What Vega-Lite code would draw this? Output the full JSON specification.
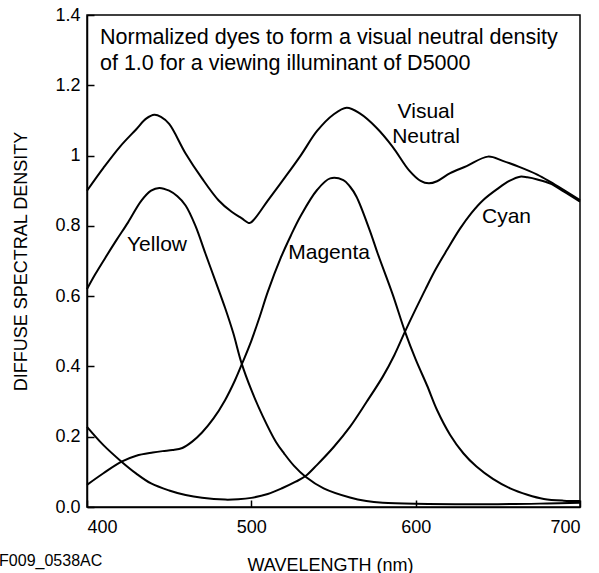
{
  "$schema": "https://vega.github.io/schema/vega-lite/v6.json",
  "width": 493,
  "height": 492,
  "autosize": {"type": "none"},
  "padding": {"left": 87, "top": 15, "right": 19, "bottom": 66},
  "background": "white",
  "config": {
    "view": {"stroke": "black", "strokeWidth": 1.5},
    "font": "Liberation Sans"
  },
  "datasets": {
    "curves": [
      {"dye": "Visual Neutral", "wavelength": 400, "density": 0.9},
      {"dye": "Visual Neutral", "wavelength": 410, "density": 0.965},
      {"dye": "Visual Neutral", "wavelength": 420, "density": 1.025},
      {"dye": "Visual Neutral", "wavelength": 430, "density": 1.075},
      {"dye": "Visual Neutral", "wavelength": 436, "density": 1.105},
      {"dye": "Visual Neutral", "wavelength": 441, "density": 1.116},
      {"dye": "Visual Neutral", "wavelength": 445, "density": 1.11},
      {"dye": "Visual Neutral", "wavelength": 450, "density": 1.09},
      {"dye": "Visual Neutral", "wavelength": 460, "density": 1.006},
      {"dye": "Visual Neutral", "wavelength": 470, "density": 0.935},
      {"dye": "Visual Neutral", "wavelength": 480, "density": 0.873},
      {"dye": "Visual Neutral", "wavelength": 488, "density": 0.84},
      {"dye": "Visual Neutral", "wavelength": 494, "density": 0.822},
      {"dye": "Visual Neutral", "wavelength": 499, "density": 0.808},
      {"dye": "Visual Neutral", "wavelength": 502, "density": 0.82},
      {"dye": "Visual Neutral", "wavelength": 510, "density": 0.872},
      {"dye": "Visual Neutral", "wavelength": 520, "density": 0.935},
      {"dye": "Visual Neutral", "wavelength": 530, "density": 1.0},
      {"dye": "Visual Neutral", "wavelength": 540, "density": 1.07},
      {"dye": "Visual Neutral", "wavelength": 550, "density": 1.117},
      {"dye": "Visual Neutral", "wavelength": 558, "density": 1.136},
      {"dye": "Visual Neutral", "wavelength": 566, "density": 1.12},
      {"dye": "Visual Neutral", "wavelength": 576, "density": 1.08},
      {"dye": "Visual Neutral", "wavelength": 586, "density": 1.025},
      {"dye": "Visual Neutral", "wavelength": 596, "density": 0.958},
      {"dye": "Visual Neutral", "wavelength": 603, "density": 0.928},
      {"dye": "Visual Neutral", "wavelength": 608, "density": 0.921},
      {"dye": "Visual Neutral", "wavelength": 613, "density": 0.927},
      {"dye": "Visual Neutral", "wavelength": 621, "density": 0.95},
      {"dye": "Visual Neutral", "wavelength": 631, "density": 0.97},
      {"dye": "Visual Neutral", "wavelength": 644, "density": 0.997},
      {"dye": "Visual Neutral", "wavelength": 653, "density": 0.985},
      {"dye": "Visual Neutral", "wavelength": 663, "density": 0.968},
      {"dye": "Visual Neutral", "wavelength": 674, "density": 0.946},
      {"dye": "Visual Neutral", "wavelength": 682, "density": 0.925},
      {"dye": "Visual Neutral", "wavelength": 700, "density": 0.873},

      {"dye": "Yellow", "wavelength": 400, "density": 0.62},
      {"dye": "Yellow", "wavelength": 405, "density": 0.662},
      {"dye": "Yellow", "wavelength": 411, "density": 0.708},
      {"dye": "Yellow", "wavelength": 418, "density": 0.76},
      {"dye": "Yellow", "wavelength": 425, "density": 0.81},
      {"dye": "Yellow", "wavelength": 433, "density": 0.871},
      {"dye": "Yellow", "wavelength": 439, "density": 0.9},
      {"dye": "Yellow", "wavelength": 444, "density": 0.908},
      {"dye": "Yellow", "wavelength": 450, "density": 0.9},
      {"dye": "Yellow", "wavelength": 455, "density": 0.884},
      {"dye": "Yellow", "wavelength": 460, "density": 0.858},
      {"dye": "Yellow", "wavelength": 466, "density": 0.8},
      {"dye": "Yellow", "wavelength": 472, "density": 0.722},
      {"dye": "Yellow", "wavelength": 478, "density": 0.645},
      {"dye": "Yellow", "wavelength": 484, "density": 0.567},
      {"dye": "Yellow", "wavelength": 489, "density": 0.495},
      {"dye": "Yellow", "wavelength": 494, "density": 0.41},
      {"dye": "Yellow", "wavelength": 500, "density": 0.333},
      {"dye": "Yellow", "wavelength": 507, "density": 0.258},
      {"dye": "Yellow", "wavelength": 515, "density": 0.185},
      {"dye": "Yellow", "wavelength": 520, "density": 0.152},
      {"dye": "Yellow", "wavelength": 526, "density": 0.117},
      {"dye": "Yellow", "wavelength": 533, "density": 0.086},
      {"dye": "Yellow", "wavelength": 544, "density": 0.053},
      {"dye": "Yellow", "wavelength": 560, "density": 0.027},
      {"dye": "Yellow", "wavelength": 570, "density": 0.017},
      {"dye": "Yellow", "wavelength": 580, "density": 0.012},
      {"dye": "Yellow", "wavelength": 600, "density": 0.009},
      {"dye": "Yellow", "wavelength": 650, "density": 0.008},
      {"dye": "Yellow", "wavelength": 680, "density": 0.01},
      {"dye": "Yellow", "wavelength": 700, "density": 0.012},

      {"dye": "Magenta", "wavelength": 400, "density": 0.063},
      {"dye": "Magenta", "wavelength": 410, "density": 0.096},
      {"dye": "Magenta", "wavelength": 421, "density": 0.129},
      {"dye": "Magenta", "wavelength": 430, "density": 0.146},
      {"dye": "Magenta", "wavelength": 440, "density": 0.155},
      {"dye": "Magenta", "wavelength": 446, "density": 0.159},
      {"dye": "Magenta", "wavelength": 452, "density": 0.162},
      {"dye": "Magenta", "wavelength": 458, "density": 0.168},
      {"dye": "Magenta", "wavelength": 464, "density": 0.186},
      {"dye": "Magenta", "wavelength": 470, "density": 0.212},
      {"dye": "Magenta", "wavelength": 477, "density": 0.252},
      {"dye": "Magenta", "wavelength": 484, "density": 0.304},
      {"dye": "Magenta", "wavelength": 490, "density": 0.36},
      {"dye": "Magenta", "wavelength": 495, "density": 0.415},
      {"dye": "Magenta", "wavelength": 500, "density": 0.473},
      {"dye": "Magenta", "wavelength": 505, "density": 0.54},
      {"dye": "Magenta", "wavelength": 510, "density": 0.612},
      {"dye": "Magenta", "wavelength": 518, "density": 0.71},
      {"dye": "Magenta", "wavelength": 524, "density": 0.772},
      {"dye": "Magenta", "wavelength": 530, "density": 0.828},
      {"dye": "Magenta", "wavelength": 540, "density": 0.902},
      {"dye": "Magenta", "wavelength": 548, "density": 0.935},
      {"dye": "Magenta", "wavelength": 556, "density": 0.93},
      {"dye": "Magenta", "wavelength": 560, "density": 0.912},
      {"dye": "Magenta", "wavelength": 564, "density": 0.883},
      {"dye": "Magenta", "wavelength": 572, "density": 0.788},
      {"dye": "Magenta", "wavelength": 577, "density": 0.72},
      {"dye": "Magenta", "wavelength": 586, "density": 0.605},
      {"dye": "Magenta", "wavelength": 593.5, "density": 0.499},
      {"dye": "Magenta", "wavelength": 600, "density": 0.42},
      {"dye": "Magenta", "wavelength": 607, "density": 0.345},
      {"dye": "Magenta", "wavelength": 613, "density": 0.276},
      {"dye": "Magenta", "wavelength": 621, "density": 0.205},
      {"dye": "Magenta", "wavelength": 629, "density": 0.153},
      {"dye": "Magenta", "wavelength": 637, "density": 0.115},
      {"dye": "Magenta", "wavelength": 647, "density": 0.08},
      {"dye": "Magenta", "wavelength": 657.5, "density": 0.053},
      {"dye": "Magenta", "wavelength": 668, "density": 0.035},
      {"dye": "Magenta", "wavelength": 678, "density": 0.023},
      {"dye": "Magenta", "wavelength": 690, "density": 0.018},
      {"dye": "Magenta", "wavelength": 700, "density": 0.017},

      {"dye": "Cyan", "wavelength": 400, "density": 0.228},
      {"dye": "Cyan", "wavelength": 410, "density": 0.176},
      {"dye": "Cyan", "wavelength": 421, "density": 0.129},
      {"dye": "Cyan", "wavelength": 430, "density": 0.095},
      {"dye": "Cyan", "wavelength": 439, "density": 0.067},
      {"dye": "Cyan", "wavelength": 450, "density": 0.047},
      {"dye": "Cyan", "wavelength": 460, "density": 0.034},
      {"dye": "Cyan", "wavelength": 470, "density": 0.026},
      {"dye": "Cyan", "wavelength": 484, "density": 0.021},
      {"dye": "Cyan", "wavelength": 492, "density": 0.022},
      {"dye": "Cyan", "wavelength": 500, "density": 0.026},
      {"dye": "Cyan", "wavelength": 510, "density": 0.037},
      {"dye": "Cyan", "wavelength": 519, "density": 0.054},
      {"dye": "Cyan", "wavelength": 527, "density": 0.072},
      {"dye": "Cyan", "wavelength": 533, "density": 0.088},
      {"dye": "Cyan", "wavelength": 540, "density": 0.12},
      {"dye": "Cyan", "wavelength": 550, "density": 0.17},
      {"dye": "Cyan", "wavelength": 560, "density": 0.228},
      {"dye": "Cyan", "wavelength": 570, "density": 0.298},
      {"dye": "Cyan", "wavelength": 580, "density": 0.371},
      {"dye": "Cyan", "wavelength": 587, "density": 0.432},
      {"dye": "Cyan", "wavelength": 593.5, "density": 0.499},
      {"dye": "Cyan", "wavelength": 600, "density": 0.563},
      {"dye": "Cyan", "wavelength": 606, "density": 0.62},
      {"dye": "Cyan", "wavelength": 612, "density": 0.675},
      {"dye": "Cyan", "wavelength": 619, "density": 0.731},
      {"dye": "Cyan", "wavelength": 627, "density": 0.792},
      {"dye": "Cyan", "wavelength": 634, "density": 0.837},
      {"dye": "Cyan", "wavelength": 641, "density": 0.873},
      {"dye": "Cyan", "wavelength": 650, "density": 0.906},
      {"dye": "Cyan", "wavelength": 657, "density": 0.928},
      {"dye": "Cyan", "wavelength": 663.5, "density": 0.94},
      {"dye": "Cyan", "wavelength": 668, "density": 0.938},
      {"dye": "Cyan", "wavelength": 674, "density": 0.932},
      {"dye": "Cyan", "wavelength": 682, "density": 0.92},
      {"dye": "Cyan", "wavelength": 690, "density": 0.898},
      {"dye": "Cyan", "wavelength": 700, "density": 0.869}
    ],
    "xticks": [
      {"wavelength": 420}, {"wavelength": 440}, {"wavelength": 460}, {"wavelength": 480},
      {"wavelength": 500}, {"wavelength": 520}, {"wavelength": 540}, {"wavelength": 560},
      {"wavelength": 580}, {"wavelength": 600}, {"wavelength": 620}, {"wavelength": 640},
      {"wavelength": 660}, {"wavelength": 680}
    ],
    "yticks": [
      {"density": 0.1}, {"density": 0.2}, {"density": 0.3}, {"density": 0.4},
      {"density": 0.5}, {"density": 0.6}, {"density": 0.7}, {"density": 0.8},
      {"density": 0.9}, {"density": 1.0}, {"density": 1.1}, {"density": 1.2},
      {"density": 1.3}
    ],
    "labels": [
      {"label": "Yellow", "wavelength": 442.6, "density": 0.745},
      {"label": "Magenta", "wavelength": 547.3, "density": 0.723},
      {"label": "Cyan", "wavelength": 655.3, "density": 0.825},
      {"label": "Visual", "wavelength": 606.3, "density": 1.124},
      {"label": "Neutral", "wavelength": 606.3, "density": 1.053}
    ],
    "headline": [
      {"line": "Normalized dyes to form a visual neutral density", "wavelength": 407.9, "density": 1.317},
      {"line": "of 1.0 for a viewing illuminant of D5000", "wavelength": 407.9, "density": 1.243}
    ],
    "note": [
      {"code": "F009_0538AC", "wavelength": 346.5, "density": -0.168}
    ]
  },
  "encoding": {
    "x": {
      "field": "wavelength",
      "type": "quantitative",
      "scale": {"domain": [400, 700], "nice": false, "zero": false},
      "axis": {
        "title": "WAVELENGTH (nm)",
        "grid": false,
        "ticks": true,
        "tickSize": -7,
        "tickColor": "black",
        "tickWidth": 1.5,
        "values": [400, 500, 600, 700],
        "domainColor": "black",
        "domainWidth": 1.5,
        "labelPadding": 18,
        "labelBaseline": "top",
        "labelColor": "black",
        "labelFontSize": 18,
        "labelFont": "Liberation Sans",
        "titleColor": "black",
        "titleFont": "Liberation Sans",
        "titleFontSize": 18,
        "titleFontWeight": "normal",
        "titleX": 243,
        "titleY": 63,
        "titleAlign": "center",
        "titleBaseline": "alphabetic"
      }
    },
    "y": {
      "field": "density",
      "type": "quantitative",
      "scale": {"domain": [0, 1.4], "nice": false},
      "axis": {
        "title": "DIFFUSE SPECTRAL DENSITY",
        "grid": false,
        "ticks": true,
        "tickSize": -7,
        "tickColor": "black",
        "tickWidth": 1.5,
        "values": [0, 0.2, 0.4, 0.6, 0.8, 1, 1.2, 1.4],
        "domainColor": "black",
        "domainWidth": 1.5,
        "labelExpr": "datum.value == 1 ? '1' : format(datum.value, '.1f')",
        "labelPadding": 14,
        "labelColor": "black",
        "labelFontSize": 18,
        "labelFont": "Liberation Sans",
        "titleColor": "black",
        "titleFont": "Liberation Sans",
        "titleFontSize": 18,
        "titleFontWeight": "normal",
        "titleX": -61,
        "titleY": 246,
        "titleAngle": -90,
        "titleAlign": "center",
        "titleBaseline": "alphabetic"
      }
    }
  },
  "layer": [
    {
      "data": {"name": "curves"},
      "mark": {"type": "line", "interpolate": "catmull-rom", "color": "black", "strokeWidth": 2},
      "encoding": {"detail": {"field": "dye", "type": "nominal"}}
    },
    {
      "data": {"name": "xticks"},
      "mark": {"type": "rule", "color": "black", "strokeWidth": 1.5},
      "encoding": {
        "y": {"datum": 0},
        "y2": {"datum": 0.02}
      }
    },
    {
      "data": {"name": "yticks"},
      "mark": {"type": "rule", "color": "black", "strokeWidth": 1.5},
      "encoding": {
        "x": {"datum": 400},
        "x2": {"datum": 404.3}
      }
    },
    {
      "data": {"name": "labels"},
      "mark": {"type": "text", "fontSize": 21, "align": "center", "baseline": "middle", "color": "black", "font": "Liberation Sans"},
      "encoding": {"text": {"field": "label", "type": "nominal"}}
    },
    {
      "data": {"name": "headline"},
      "mark": {"type": "text", "fontSize": 21.5, "align": "left", "baseline": "alphabetic", "color": "black", "font": "Liberation Sans"},
      "encoding": {"text": {"field": "line", "type": "nominal"}}
    },
    {
      "data": {"name": "note"},
      "mark": {"type": "text", "fontSize": 16, "align": "left", "baseline": "alphabetic", "color": "black", "font": "Liberation Sans"},
      "encoding": {"text": {"field": "code", "type": "nominal"}}
    }
  ]
}
